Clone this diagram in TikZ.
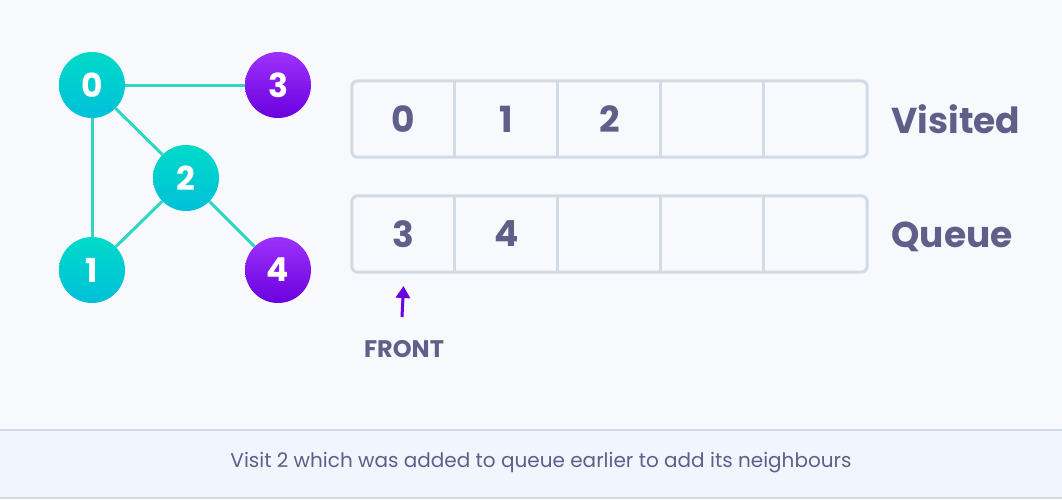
\documentclass[tikz,border=0pt]{standalone}
\usepackage{fontspec}
\setmainfont{Poppins}
\usetikzlibrary{positioning,arrows.meta}

\definecolor{bgcol}{HTML}{F8F9FC}
\definecolor{bandcol}{HTML}{F1F5FD}
\definecolor{bandline}{HTML}{D3DAE6}
\definecolor{cellline}{HTML}{D2DBE5}
\definecolor{textcol}{HTML}{5F5F8A}
\definecolor{edgecol}{HTML}{2ED6C4}
\definecolor{tealtop}{HTML}{00DAC8}
\definecolor{tealbot}{HTML}{00C0DA}
\definecolor{purptop}{HTML}{9E32FB}
\definecolor{purpbot}{HTML}{6A00DF}
\definecolor{arrowcol}{HTML}{6A00DF}

\begin{document}
\begin{tikzpicture}[x=1pt,y=-1pt,
    vertex/.style={circle,minimum size=66pt,inner sep=0pt,text=white,
      font=\fontsize{33}{33}\selectfont\bfseries},
    visited/.style={vertex,top color=tealtop,bottom color=tealbot},
    waiting/.style={vertex,top color=purptop,bottom color=purpbot},
    cell/.style={minimum width=103pt,minimum height=76pt,inner sep=0pt,
      text=textcol,font=\fontsize{36}{36}\selectfont\bfseries},
    rowlabel/.style={anchor=west,text=textcol,font=\fontsize{36}{36}\selectfont\bfseries},
    edge/.style={edgecol,line width=3pt}]
    % Background
    \useasboundingbox (0,0) rectangle (1062,499);
    \fill[bgcol] (0,0) rectangle (1062,499);
    \fill[bandcol] (0,430) rectangle (1062,499);
    \draw[bandline,line width=1.5pt] (0,430) -- (1062,430);
    \draw[bandline,line width=1.5pt] (0,498) -- (1062,498);

    % Graph
    \node[visited] (n0) at (92,85) {0};
    \node[waiting] (n3) at (278,85) {3};
    \node[visited] (n2) at (186,178) {2};
    \node[visited] (n1) at (92,270) {1};
    \node[waiting] (n4) at (278,270) {4};
    \draw[edge] (n0) -- (n3);
    \draw[edge] (n0) -- (n2);
    \draw[edge] (n0) -- (n1);
    \draw[edge] (n2) -- (n1);
    \draw[edge] (n2) -- (n4);

    % Visited row
    \foreach \i/\t in {0/0,1/1,2/2,3/,4/} {
      \node[cell] (v\i) at (403.5+103*\i,119) {\t};
    }
    % Queue row
    \foreach \i/\t in {0/3,1/4,2/,3/,4/} {
      \node[cell] (q\i) at (403.5+103*\i,234) {\t};
    }
    \draw[cellline,line width=3pt,rounded corners=6pt] (v0.north west) rectangle (v4.south east);
    \draw[cellline,line width=3pt,rounded corners=6pt] (q0.north west) rectangle (q4.south east);
    \foreach \i in {1,...,4} {
      \draw[cellline,line width=3pt] (v\i.north west) -- (v\i.south west);
      \draw[cellline,line width=3pt] (q\i.north west) -- (q\i.south west);
    }

    % Labels
    \node[rowlabel] (lv) at (888,119) {Visited};
    \node[rowlabel] (lq) at (888,237) {Queue};

    % Front pointer
    \node[text=textcol,font=\fontsize{24}{24}\selectfont\bfseries] (front) at (404,349) {FRONT};
    \coordinate (fronttail) at (402,317);
    \draw[arrowcol,line width=3pt,-{Triangle[width=14pt,length=12pt]}] (fronttail) -- (q0.south |- 0,286);

    % Caption
    \node[text=textcol,font=\fontsize{20}{20}\selectfont] (caption) at (541,463)
      {Visit 2 which was added to queue earlier to add its neighbours};
\end{tikzpicture}
\end{document}
